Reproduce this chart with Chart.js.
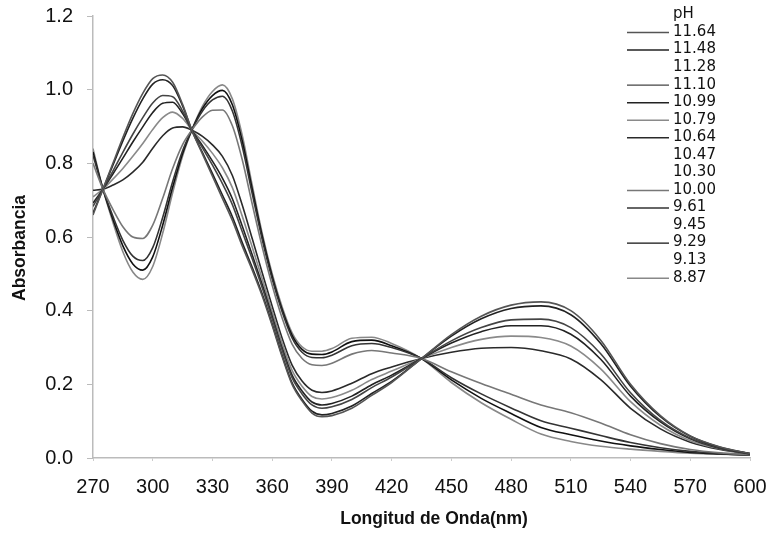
<!DOCTYPE html>
<html>
<head>
<meta charset="utf-8">
<script src="https://cdn.jsdelivr.net/npm/chart.js@4/dist/chart.umd.min.js"></script>
<style>
  html, body { margin:0; padding:0; background:#fff; overflow:hidden; }
  #wrap { width:767px; height:533px; overflow:hidden; }
</style>
</head>
<body>
<div id="wrap"><canvas id="c" width="780" height="533"></canvas></div>
<script>
// ---------- Data ----------
const wavelengths = [270,275,280,285,290,295,300,305,310,315,320,325,330,335,340,345,350,355,360,365,
                     370,375,380,385,390,400,410,420,435,450,465,480,495,510,525,540,555,570,585,600];

const phLabels = ['11.64','11.48','11.28','11.10','10.99','10.79','10.64','10.47','10.30','10.00','9.61','9.45','9.29','9.13','8.87'];

const abs1164 = [0.660,0.730,0.800,0.870,0.935,0.990,1.030,1.040,1.020,0.960,0.885,0.825,0.765,0.705,0.645,0.575,0.510,0.440,0.360,0.275,
                 0.200,0.155,0.122,0.112,0.115,0.135,0.170,0.205,0.270,0.335,0.385,0.415,0.424,0.400,0.320,0.200,0.115,0.060,0.030,0.012];
const abs1148 = [0.665,0.730,0.795,0.861,0.922,0.975,1.015,1.027,1.011,0.956,0.885,0.829,0.772,0.714,0.655,0.584,0.517,0.445,0.364,0.279,
                 0.204,0.159,0.127,0.117,0.121,0.141,0.175,0.208,0.270,0.331,0.378,0.406,0.413,0.389,0.311,0.195,0.112,0.059,0.029,0.012];
const abs1110 = [0.683,0.730,0.779,0.830,0.879,0.924,0.964,0.984,0.981,0.942,0.886,0.842,0.795,0.745,0.688,0.614,0.540,0.462,0.378,0.293,
                 0.218,0.174,0.144,0.135,0.139,0.159,0.191,0.220,0.270,0.318,0.354,0.375,0.377,0.354,0.283,0.177,0.102,0.054,0.027,0.012];
const abs1099 = [0.692,0.730,0.771,0.814,0.858,0.899,0.938,0.963,0.966,0.935,0.887,0.848,0.806,0.760,0.704,0.629,0.551,0.471,0.385,0.299,
                 0.225,0.182,0.152,0.144,0.148,0.168,0.199,0.225,0.270,0.312,0.343,0.359,0.359,0.336,0.268,0.168,0.098,0.052,0.026,0.011];
const abs1079 = [0.709,0.730,0.757,0.786,0.819,0.854,0.892,0.924,0.939,0.922,0.888,0.860,0.827,0.788,0.734,0.656,0.572,0.486,0.398,0.312,
                 0.238,0.195,0.167,0.160,0.164,0.184,0.213,0.236,0.270,0.300,0.322,0.331,0.327,0.304,0.242,0.153,0.089,0.047,0.025,0.011];
const abs1064 = [0.727,0.730,0.741,0.755,0.776,0.803,0.841,0.875,0.896,0.899,0.889,0.873,0.850,0.819,0.767,0.686,0.595,0.503,0.412,0.325,
                 0.252,0.209,0.184,0.178,0.182,0.203,0.229,0.247,0.270,0.287,0.298,0.300,0.291,0.269,0.213,0.135,0.079,0.043,0.023,0.011];
const abs1000 = [0.800,0.730,0.675,0.628,0.600,0.596,0.632,0.705,0.786,0.851,0.893,0.926,0.944,0.945,0.902,0.809,0.689,0.573,0.469,0.380,
                 0.309,0.270,0.253,0.251,0.257,0.282,0.292,0.285,0.270,0.234,0.202,0.173,0.144,0.123,0.095,0.063,0.039,0.023,0.014,0.009];
const abs961  = [0.822,0.730,0.656,0.591,0.548,0.536,0.571,0.653,0.750,0.834,0.894,0.942,0.972,0.982,0.942,0.845,0.717,0.593,0.486,0.397,
                 0.326,0.287,0.273,0.272,0.279,0.305,0.311,0.300,0.270,0.218,0.174,0.136,0.101,0.081,0.061,0.042,0.028,0.018,0.012,0.008];
const abs929  = [0.831,0.730,0.648,0.576,0.527,0.510,0.546,0.632,0.735,0.827,0.895,0.949,0.984,0.998,0.959,0.860,0.729,0.602,0.493,0.403,
                 0.333,0.295,0.282,0.281,0.288,0.316,0.320,0.305,0.270,0.212,0.162,0.121,0.083,0.063,0.046,0.033,0.023,0.015,0.011,0.008];
const abs887  = [0.840,0.730,0.640,0.560,0.505,0.485,0.520,0.610,0.720,0.820,0.895,0.955,0.995,1.013,0.975,0.875,0.740,0.610,0.500,0.410,
                 0.340,0.302,0.290,0.290,0.297,0.325,0.328,0.311,0.270,0.205,0.150,0.105,0.065,0.045,0.032,0.024,0.018,0.013,0.010,0.008];

// curves that show in the print (the other pH entries have no visible trace)
const series = [
  { label:'11.64', values:abs1164, color:'#555' },
  { label:'11.48', values:abs1148, color:'#222' },
  { label:'11.10', values:abs1110, color:'#444' },
  { label:'10.99', values:abs1099, color:'#222' },
  { label:'10.79', values:abs1079, color:'#8a8a8a' },
  { label:'10.64', values:abs1064, color:'#2a2a2a' },
  { label:'10.00', values:abs1000, color:'#777' },
  { label:'9.61',  values:abs961,  color:'#333' },
  { label:'9.29',  values:abs929,  color:'#111' },
  { label:'8.87',  values:abs887,  color:'#888' }
];

const FONT = "'Liberation Sans', Arial, sans-serif";

// ---------- Legend + axis titles drawn on canvas ----------
const phLegend = {
  id: 'phLegend',
  afterDraw(chart){
    const ctx = chart.ctx;
    ctx.save();
    ctx.font = "15px 'DejaVu Sans', sans-serif";
    ctx.fillStyle = '#111';
    ctx.textBaseline = 'middle';
    ctx.textAlign = 'left';
    ctx.fillText('pH', 673, 14);
    phLabels.forEach((lab, i) => {
      const y = 32 + i * 17.55;
      const s = series.find(d => d.label === lab);
      if (s){
        ctx.strokeStyle = s.color;
        ctx.lineWidth = 1.4;
        ctx.beginPath();
        ctx.moveTo(627, y + 0.5);
        ctx.lineTo(669, y + 0.5);
        ctx.stroke();
      }
      ctx.fillText(lab, 673, y);
    });

    // axis titles (original sits a bit off the plot centre)
    ctx.font = 'bold 17.5px ' + FONT;
    ctx.textAlign = 'center';
    ctx.fillText('Longitud de Onda(nm)', 434, 519);
    ctx.translate(20.5, 248);
    ctx.rotate(-Math.PI / 2);
    ctx.fillText('Absorbancia', 0, 0);
    ctx.restore();
  }
};

new Chart(document.getElementById('c'), {
  type: 'line',
  data: {
    datasets: series.map(s => ({
      label: s.label,
      data: wavelengths.map((w, i) => ({ x: w, y: s.values[i] })),
      borderColor: s.color,
      borderWidth: 1.6,
      pointRadius: 0,
      fill: false,
      cubicInterpolationMode: 'monotone'
    }))
  },
  options: {
    responsive: false,
    animation: false,
    layout: { padding: { top: 16, right: 30, left: 0, bottom: 0 } },
    plugins: { legend: { display: false }, tooltip: { enabled: false } },
    scales: {
      x: {
        type: 'linear', min: 270, max: 600,
        afterFit: s => { s.height = 75; s.paddingLeft = 0; s.paddingRight = 0; },
        ticks: { stepSize: 30, color: '#111', font: { family: FONT, size: 20, lineHeight: 1 }, padding: 16, maxRotation: 0 },
        grid: { display: true, drawOnChartArea: false, tickLength: 3, color: '#ccc' },
        border: { color: '#bbb', width: 1.5, dash: [4, 2] },
        title: { display: false }
      },
      y: {
        min: 0, max: 1.2,
        afterFit: s => { s.width = 93; s.paddingTop = 0; s.paddingBottom = 0; },
        ticks: { stepSize: 0.2, color: '#111', font: { family: FONT, size: 20 }, padding: 14, callback: v => v.toFixed(1) },
        grid: { display: true, drawOnChartArea: false, tickLength: 6, color: '#bbb' },
        border: { color: '#bbb', width: 1.5, dash: [4, 2] },
        title: { display: false }
      }
    }
  },
  plugins: [phLegend]
});
</script>
</body>
</html>
